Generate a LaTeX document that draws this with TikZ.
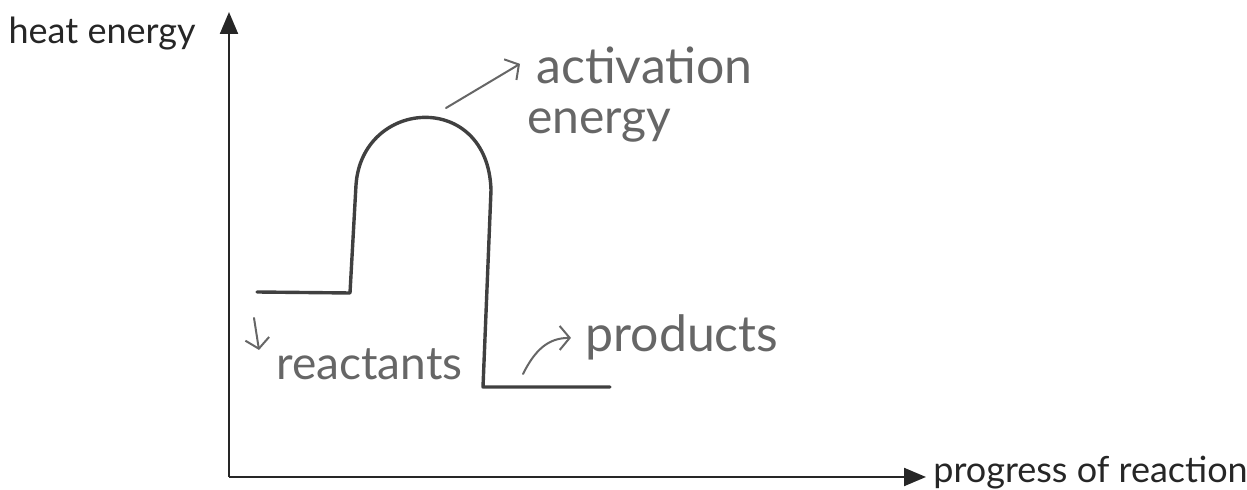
\documentclass[tikz,border=0pt]{standalone}
\usepackage{fontspec}
\setmainfont{Lato}
\usetikzlibrary{arrows.meta}
\begin{document}
\begin{tikzpicture}[
    x=0.5pt, y=-0.5pt,
    axis/.style={line width=1.1pt, black!85, -{Triangle[length=11pt, width=9pt]}},
    curve/.style={line width=1.7pt, black!75, line join=round, line cap=round},
    hand/.style={line width=1pt, black!60, line cap=round, -{Straight Barb[length=5pt, width=12pt]}},
    lbl/.style={font=\fontsize{18}{20}\selectfont, text=black!85, inner sep=0pt},
    note/.style={font=\fontsize{25}{25}\selectfont, text=black!60, inner sep=0pt}
]
\useasboundingbox (0,0) rectangle (1247,490);
% axes
\coordinate (origin) at (229,477);
\coordinate (ytop)   at (229,12);
\coordinate (xend)   at (926,477);
\draw[axis] (origin) -- (ytop);
\draw[axis] (origin) -- (xend);
\node[lbl, anchor=base east]  (ylab) at (196,44)  {heat energy};
\node[lbl, anchor=base west]  (xlab) at (933,483) {progress of reaction};

% energy profile
\draw[curve] (257,292) -- (350,293) -- (356,185)
    .. controls (362,98) and (488,90) .. (491,190)
    -- (483,387) -- (610,387);
\coordinate (peak) at (446,108);
\coordinate (rstart) at (254,318);
\coordinate (pstart) at (523,374);

% labels
\node[note, anchor=base west] (act1) at (536,84)  {activation};
\node[note, anchor=base west, font=\fontsize{24}{24}\selectfont] (act2) at (527,134) {energy};
\node[note, anchor=base west, font=\fontsize{23}{23}\selectfont] (react) at (276,380) {reactants};
\node[note, anchor=base west] (prod) at (585,352) {products};
\draw[hand] (peak) -- ([xshift=-8pt, yshift=1pt]act1.west);
\draw[hand] (rstart) -- (259,350);
\draw[hand] (pstart) .. controls (535,350) and (548,338) .. ([xshift=-7pt]prod.west);
\end{tikzpicture}
\end{document}
